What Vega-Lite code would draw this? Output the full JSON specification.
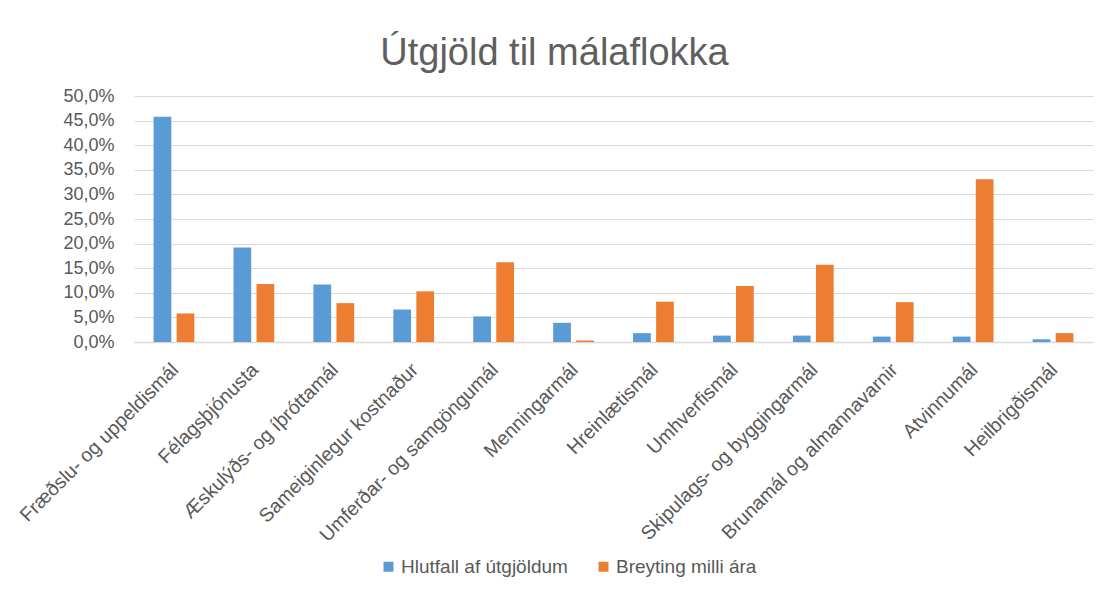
{
  "$schema": "https://vega.github.io/schema/vega-lite/v6.json",
  "width": 959,
  "height": 246,
  "autosize": {"type": "none"},
  "padding": {"left": 134, "top": 96, "right": 21, "bottom": 250},
  "background": "white",
  "title": {
    "text": "Útgjöld til málaflokka",
    "anchor": "middle",
    "frame": "bounds",
    "font": "Liberation Sans",
    "fontSize": 38,
    "fontWeight": "normal",
    "color": "#5f5f5f",
    "offset": 14
  },
  "data": {
    "values": [
      {"category": "Fræðslu- og uppeldismál", "series": "Hlutfall af útgjöldum", "value": 0.458},
      {"category": "Fræðslu- og uppeldismál", "series": "Breyting milli ára", "value": 0.058},
      {"category": "Félagsþjónusta", "series": "Hlutfall af útgjöldum", "value": 0.192},
      {"category": "Félagsþjónusta", "series": "Breyting milli ára", "value": 0.118},
      {"category": "Æskulýðs- og íþróttamál", "series": "Hlutfall af útgjöldum", "value": 0.117},
      {"category": "Æskulýðs- og íþróttamál", "series": "Breyting milli ára", "value": 0.079},
      {"category": "Sameiginlegur kostnaður", "series": "Hlutfall af útgjöldum", "value": 0.066},
      {"category": "Sameiginlegur kostnaður", "series": "Breyting milli ára", "value": 0.103},
      {"category": "Umferðar- og samgöngumál", "series": "Hlutfall af útgjöldum", "value": 0.052},
      {"category": "Umferðar- og samgöngumál", "series": "Breyting milli ára", "value": 0.162},
      {"category": "Menningarmál", "series": "Hlutfall af útgjöldum", "value": 0.039},
      {"category": "Menningarmál", "series": "Breyting milli ára", "value": 0.003},
      {"category": "Hreinlætismál", "series": "Hlutfall af útgjöldum", "value": 0.018},
      {"category": "Hreinlætismál", "series": "Breyting milli ára", "value": 0.082},
      {"category": "Umhverfismál", "series": "Hlutfall af útgjöldum", "value": 0.013},
      {"category": "Umhverfismál", "series": "Breyting milli ára", "value": 0.114},
      {"category": "Skipulags- og byggingarmál", "series": "Hlutfall af útgjöldum", "value": 0.013},
      {"category": "Skipulags- og byggingarmál", "series": "Breyting milli ára", "value": 0.157},
      {"category": "Brunamál og almannavarnir", "series": "Hlutfall af útgjöldum", "value": 0.011},
      {"category": "Brunamál og almannavarnir", "series": "Breyting milli ára", "value": 0.081},
      {"category": "Atvinnumál", "series": "Hlutfall af útgjöldum", "value": 0.011},
      {"category": "Atvinnumál", "series": "Breyting milli ára", "value": 0.331},
      {"category": "Heilbrigðismál", "series": "Hlutfall af útgjöldum", "value": 0.0055},
      {"category": "Heilbrigðismál", "series": "Breyting milli ára", "value": 0.018}
    ]
  },
  "mark": {"type": "bar"},
  "encoding": {
    "x": {
      "field": "category",
      "type": "nominal",
      "sort": null,
      "scale": {"paddingInner": 0.49, "paddingOuter": 0.245},
      "axis": {
        "title": null,
        "labelAngle": -45,
        "labelFont": "Liberation Sans",
        "labelFontSize": 19.5,
        "labelColor": "#595959",
        "labelLimit": 400,
        "labelPadding": 18,
        "labelOffset": -5,
        "ticks": false,
        "domainColor": "#D9D9D9",
        "domainWidth": 1.5,
        "grid": false
      }
    },
    "xOffset": {
      "field": "series",
      "type": "nominal",
      "sort": ["Hlutfall af útgjöldum", "Breyting milli ára"],
      "scale": {"paddingInner": 0.23, "paddingOuter": 0}
    },
    "y": {
      "field": "value",
      "type": "quantitative",
      "scale": {"domain": [0, 0.5], "nice": false},
      "axis": {
        "title": null,
        "values": [0, 0.05, 0.1, 0.15, 0.2, 0.25, 0.3, 0.35, 0.4, 0.45, 0.5],
        "labelExpr": "replace(format(datum.value, '.1%'), '.', ',')",
        "labelFont": "Liberation Sans",
        "labelFontSize": 18,
        "labelColor": "#595959",
        "labelPadding": 20,
        "domain": false,
        "ticks": false,
        "grid": true,
        "gridColor": "#D9D9D9",
        "gridWidth": 1.2
      }
    },
    "color": {
      "field": "series",
      "type": "nominal",
      "scale": {
        "domain": ["Hlutfall af útgjöldum", "Breyting milli ára"],
        "range": ["#5B9BD5", "#ED7D31"]
      },
      "legend": {
        "title": null,
        "orient": "none",
        "legendX": 245,
        "legendY": 461,
        "direction": "horizontal",
        "symbolType": "square",
        "symbolSize": 100,
        "symbolStrokeWidth": 0,
        "labelFont": "Liberation Sans",
        "labelFontSize": 19,
        "labelColor": "#595959",
        "labelLimit": 400,
        "labelOffset": 3,
        "columnPadding": 26
      }
    }
  },
  "config": {"view": {"stroke": null}}
}
